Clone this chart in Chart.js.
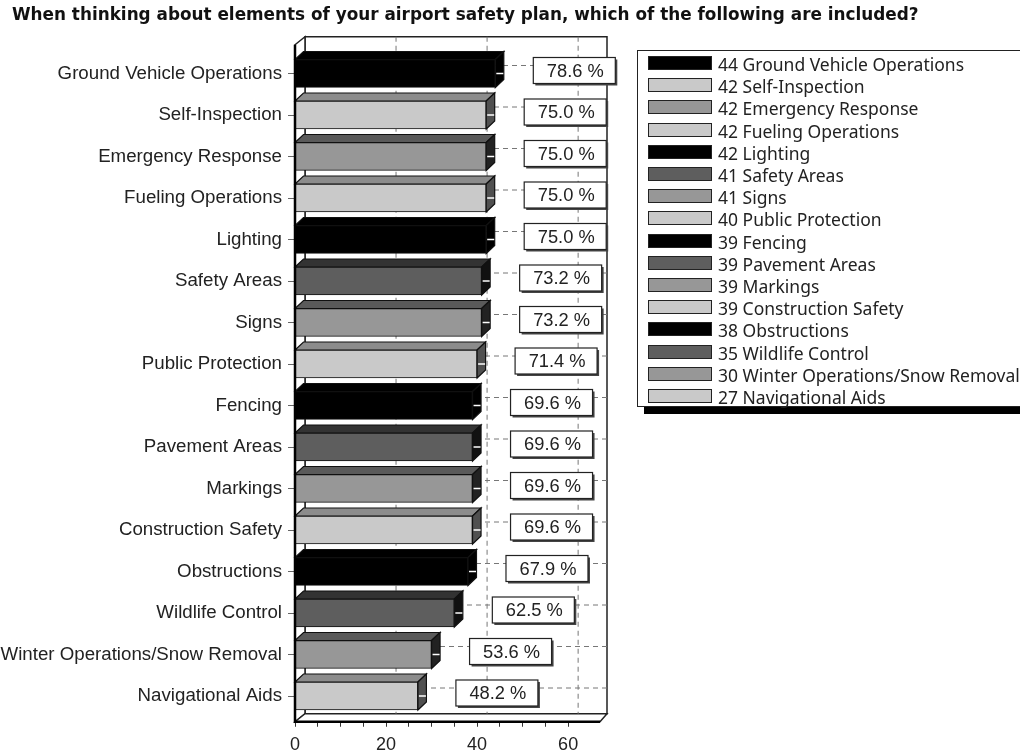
<!DOCTYPE html>
<html>
<head>
<meta charset="utf-8">
<title>Airport safety plan</title>
<script src="https://cdn.jsdelivr.net/npm/chart.js"></script>
<style>
    body { margin: 0; background: #fff; overflow: hidden; }
    #wrap { position: relative; width: 1020px; height: 756px; overflow: hidden; }
    #title {
        position: absolute; left: 12px; top: 4px; white-space: nowrap;
        font: bold 16.85px "DejaVu Sans", sans-serif; color: #111;
    }
    #legend {
        position: absolute; left: 637px; top: 50px; width: 420px; height: 357px;
        box-sizing: border-box; border: 1.5px solid #222; background: #fff;
        box-shadow: 7px 7px 0 #000;
        font: 17.5px "Noto Sans", sans-serif; color: #222;
    }
    .row { position: absolute; left: 10px; height: 22px; line-height: 22px; white-space: nowrap; }
    .swatch {
        position: absolute; left: 0; top: 3px; width: 62px; height: 12px;
        border: 1.5px solid #222;
    }
    .txt { position: absolute; left: 70px; top: 0; }
</style>
</head>
<body>
<div id="wrap">
    <canvas id="chart" width="1020" height="756"></canvas>
    <div id="title">When thinking about elements of your airport safety plan, which of the following are included?</div>
    <div id="legend"></div>
</div>
<script>
const categories = ['Ground Vehicle Operations', 'Self-Inspection', 'Emergency Response', 'Fueling Operations',
    'Lighting', 'Safety Areas', 'Signs', 'Public Protection', 'Fencing', 'Pavement Areas', 'Markings',
    'Construction Safety', 'Obstructions', 'Wildlife Control', 'Winter Operations/Snow Removal', 'Navigational Aids'];
const counts = [44, 42, 42, 42, 42, 41, 41, 40, 39, 39, 39, 39, 38, 35, 30, 27];
const percents = ['78.6 %', '75.0 %', '75.0 %', '75.0 %', '75.0 %', '73.2 %', '73.2 %', '71.4 %',
    '69.6 %', '69.6 %', '69.6 %', '69.6 %', '67.9 %', '62.5 %', '53.6 %', '48.2 %'];
const xTickLabels = [0, 20, 40, 60];

const palette = {
    black: { front: '#000000', top: '#000000', side: '#000000' },
    light: { front: '#c9c9c9', top: '#8c8c8c', side: '#505050' },
    mid: { front: '#979797', top: '#5a5a5a', side: '#222222' },
    dark: { front: '#5e5e5e', top: '#333333', side: '#111111' }
};
const barStyles = ['black', 'light', 'mid', 'light', 'black', 'dark', 'mid', 'light',
    'black', 'dark', 'mid', 'light', 'black', 'dark', 'mid', 'light'].map(function(k) { return palette[k]; });

const WALL_DX = 10, WALL_DY = 8, BAR_DX = 8.5, BAR_DY = 8;
const FLOOR_SHIFT = 5; // the floor sits a little under the last band

function poly(ctx, pts, fill, stroke) {
    ctx.beginPath();
    pts.forEach(function(p, i) { i ? ctx.lineTo(p[0], p[1]) : ctx.moveTo(p[0], p[1]); });
    ctx.closePath();
    if (fill) { ctx.fillStyle = fill; ctx.fill(); }
    if (stroke) { ctx.strokeStyle = stroke; ctx.stroke(); }
}

const box3d = {
    id: 'box3d',
    afterLayout: function(chart) {
        chart.scales.x.top += FLOOR_SHIFT;
        chart.scales.x.bottom += FLOOR_SHIFT;
    },
    beforeDatasetsDraw: function(chart) {
        const ctx = chart.ctx, a = chart.chartArea, x = chart.scales.x, y = chart.scales.y;
        const left = a.left, right = a.right, top = a.top - 8, bottom = a.bottom + FLOOR_SHIFT;
        ctx.save();
        ctx.lineWidth = 1.5;
        // back wall, left wall, floor
        poly(ctx, [[left + WALL_DX, top - WALL_DY], [right + WALL_DX - 3, top - WALL_DY],
            [right + WALL_DX - 3, bottom - WALL_DY], [left + WALL_DX, bottom - WALL_DY]], '#fff', '#222');
        poly(ctx, [[left, top], [left + WALL_DX, top - WALL_DY], [left + WALL_DX, bottom - WALL_DY], [left, bottom]], '#fff', '#222');
        poly(ctx, [[left, bottom], [left + WALL_DX, bottom - WALL_DY], [right + WALL_DX - 3, bottom - WALL_DY], [right, bottom]], '#fff', '#222');
        // dashed grid on the back wall
        ctx.lineWidth = 1;
        ctx.strokeStyle = '#777';
        ctx.setLineDash([5, 4]);
        [20, 40, 60].forEach(function(v) {
            const px = x.getPixelForValue(v) + WALL_DX;
            ctx.beginPath(); ctx.moveTo(px, top - WALL_DY); ctx.lineTo(px, bottom - WALL_DY); ctx.stroke();
        });
        categories.forEach(function(c, i) {
            const py = y.getPixelForValue(i) - WALL_DY;
            ctx.beginPath(); ctx.moveTo(left + WALL_DX, py); ctx.lineTo(right + WALL_DX - 3, py); ctx.stroke();
        });
        ctx.setLineDash([]);
        // top and side faces of the bars
        ctx.lineWidth = 1.2;
        chart.getDatasetMeta(0).data.forEach(function(bar, i) {
            const s = barStyles[i], hh = bar.height / 2, x0 = left, x1 = bar.x;
            poly(ctx, [[x0, bar.y - hh], [x0 + BAR_DX, bar.y - hh - BAR_DY], [x1 + BAR_DX, bar.y - hh - BAR_DY], [x1, bar.y - hh]], s.top, '#111');
            poly(ctx, [[x1, bar.y - hh], [x1 + BAR_DX, bar.y - hh - BAR_DY], [x1 + BAR_DX, bar.y + hh - BAR_DY], [x1, bar.y + hh]], s.side, '#111');
        });
        ctx.restore();
    },
    afterDatasetsDraw: function(chart) {
        const ctx = chart.ctx, a = chart.chartArea;
        ctx.save();
        // heavy front edges
        ctx.strokeStyle = '#000';
        ctx.lineWidth = 2.5;
        ctx.beginPath();
        ctx.moveTo(a.left, a.top - 8); ctx.lineTo(a.left, a.bottom + FLOOR_SHIFT);
        ctx.lineTo(a.right, a.bottom + FLOOR_SHIFT);
        ctx.stroke();
        // value boxes
        ctx.font = '18.3px "Liberation Sans", sans-serif';
        ctx.textAlign = 'center';
        ctx.textBaseline = 'middle';
        chart.getDatasetMeta(0).data.forEach(function(bar, i) {
            ctx.strokeStyle = '#fff';
            ctx.lineWidth = 1.5;
            ctx.beginPath(); ctx.moveTo(bar.x + 1, bar.y); ctx.lineTo(bar.x + 8, bar.y); ctx.stroke();
            const bx = bar.x + 38, by = bar.y - 16, bw = 82, bh = 26;
            ctx.fillStyle = '#444';
            ctx.fillRect(bx + 2, by + 2, bw, bh);
            ctx.fillStyle = '#fff';
            ctx.fillRect(bx, by, bw, bh);
            ctx.strokeStyle = '#222';
            ctx.lineWidth = 1.2;
            ctx.strokeRect(bx, by, bw, bh);
            ctx.fillStyle = '#222';
            ctx.fillText(percents[i], bx + bw / 2 + 1, by + bh / 2 + 1);
        });
        ctx.restore();
    }
};

new Chart(document.getElementById('chart').getContext('2d'), {
    type: 'bar',
    data: {
        labels: categories,
        datasets: [{
            data: counts,
            backgroundColor: barStyles.map(function(s) { return s.front; }),
            borderColor: '#111',
            borderWidth: 1.2,
            barThickness: 28
        }]
    },
    plugins: [box3d],
    options: {
        indexAxis: 'y',
        responsive: false,
        animation: false,
        layout: { padding: { top: 52.75, right: 420, left: 0, bottom: 0 } },
        plugins: { legend: { display: false }, title: { display: false }, tooltip: { enabled: false } },
        scales: {
            x: {
                min: 0,
                max: 67,
                afterFit: function(s) { s.height = 39.25; },
                afterBuildTicks: function(s) {
                    s.ticks = s.ticks.filter(function(t) { return t.value % 5 === 0; });
                },
                ticks: {
                    stepSize: 5,
                    autoSkip: false,
                    maxRotation: 0,
                    padding: 7,
                    color: '#222',
                    font: { family: '"Liberation Sans", sans-serif', size: 18 },
                    callback: function(v) { return xTickLabels.indexOf(v) >= 0 ? String(v) : ''; }
                },
                grid: { drawOnChartArea: false, color: '#333', tickLength: 5 },
                border: { display: false }
            },
            y: {
                afterFit: function(s) { s.width = 295; },
                ticks: {
                    autoSkip: false,
                    padding: 6,
                    color: '#222',
                    font: { family: '"Liberation Sans", sans-serif', size: 18.7 }
                },
                grid: { drawOnChartArea: false, offset: false, color: '#666', tickLength: 7 },
                border: { display: false }
            }
        }
    }
});

// legend rows
const legend = document.getElementById('legend');
categories.forEach(function(name, i) {
    const row = document.createElement('div');
    row.className = 'row';
    row.style.top = (2 + i * 22.2) + 'px';
    const sw = document.createElement('span');
    sw.className = 'swatch';
    sw.style.background = barStyles[i].front;
    const txt = document.createElement('span');
    txt.className = 'txt';
    txt.textContent = counts[i] + ' ' + name;
    row.appendChild(sw);
    row.appendChild(txt);
    legend.appendChild(row);
});
</script>
</body>
</html>
